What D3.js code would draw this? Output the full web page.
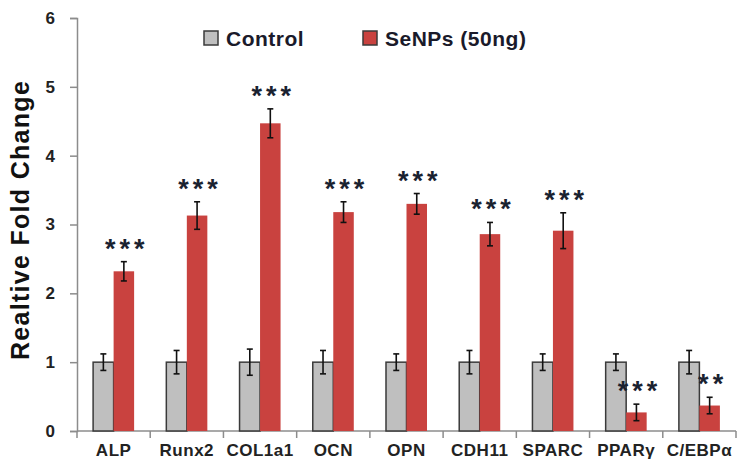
<!DOCTYPE html>
<html>
<head>
<meta charset="utf-8">
<script src="https://cdn.jsdelivr.net/npm/d3@7"></script>
<style>
  body { margin: 0; background: #fff; }
  svg { display: block; font-family: "Liberation Sans", Arial, sans-serif; }
</style>
</head>
<body>
<div id="chart"></div>
<script>
const genes = ["ALP", "Runx2", "COL1a1", "OCN", "OPN", "CDH11", "SPARC", "PPARγ", "C/EBPα"];
const controlValues = [1, 1, 1, 1, 1, 1, 1, 1, 1];
const controlErrors = [0.12, 0.17, 0.19, 0.17, 0.12, 0.17, 0.12, 0.12, 0.17];
const senpValues = [2.32, 3.13, 4.47, 3.18, 3.30, 2.86, 2.91, 0.27, 0.37];
const senpErrors = [0.14, 0.2, 0.21, 0.15, 0.15, 0.17, 0.26, 0.12, 0.12];
const stars = ["***", "***", "***", "***", "***", "***", "***", "***", "**"];
const seriesNames = ["Control", "SeNPs (50ng)"];
const yTicks = [0, 1, 2, 3, 4, 5, 6];

const width = 750;
const height = 469;
const colors = { "Control": "#bfbfbf", "SeNPs (50ng)": "#c9423f" };

const rows = genes.map((g, i) => ({
    gene: g,
    stars: stars[i],
    bars: [
        { series: "Control", value: controlValues[i], err: controlErrors[i] },
        { series: "SeNPs (50ng)", value: senpValues[i], err: senpErrors[i] }
    ]
}));

const x0 = d3.scaleBand()
    .domain(genes)
    .range([77, 736])
    .paddingInner(0.44)
    .paddingOuter(0.22);

const x1 = d3.scaleBand()
    .domain(seriesNames)
    .range([0, x0.bandwidth()]);

const y = d3.scaleLinear()
    .domain([0, 6])
    .range([431, 18]);

const svg = d3.create("svg")
    .attr("width", width)
    .attr("height", height);

// y axis
const yAxis = svg.append("g")
    .attr("transform", "translate(77,0)")
    .call(d3.axisLeft(y).tickValues(yTicks).tickFormat(d3.format("d")).tickSize(7).tickPadding(15));
yAxis.select(".domain").attr("stroke", "#8c8c8c").attr("stroke-width", 1.5);
yAxis.selectAll(".tick line").attr("stroke", "#8c8c8c").attr("stroke-width", 1.5);
yAxis.selectAll(".tick text")
    .attr("font-size", 17)
    .attr("font-weight", "bold")
    .attr("fill", "#222")
    .attr("font-family", "Liberation Sans, Arial, sans-serif");

// x axis line with ticks between categories
const step = x0.step();
const xStart = x0.range()[0];
svg.append("line")
    .attr("x1", xStart).attr("x2", x0.range()[1])
    .attr("y1", y(0)).attr("y2", y(0))
    .attr("stroke", "#8c8c8c").attr("stroke-width", 1.5);
svg.append("g")
    .selectAll("line")
    .data(d3.range(genes.length + 1))
    .join("line")
    .attr("x1", i => xStart + i * step)
    .attr("x2", i => xStart + i * step)
    .attr("y1", y(0))
    .attr("y2", y(0) + 7)
    .attr("stroke", "#8c8c8c")
    .attr("stroke-width", 1.5);

svg.append("g")
    .selectAll("text")
    .data(genes)
    .join("text")
    .attr("x", d => x0(d) + x0.bandwidth() / 2)
    .attr("y", 456)
    .attr("text-anchor", "middle")
    .attr("font-size", 17)
    .attr("font-weight", "bold")
    .attr("letter-spacing", 0.5)
    .attr("fill", "#222")
    .text(d => d);

// bars
const groups = svg.append("g")
    .selectAll("g")
    .data(rows)
    .join("g")
    .attr("transform", d => `translate(${x0(d.gene)},0)`);

groups.selectAll("rect")
    .data(d => d.bars)
    .join("rect")
    .attr("x", d => x1(d.series))
    .attr("y", d => y(d.value))
    .attr("width", x1.bandwidth())
    .attr("height", d => y(0) - y(d.value))
    .attr("fill", d => colors[d.series])
    .attr("stroke", d => d.series === "Control" ? "#3a3a3a" : "none")
    .attr("stroke-width", 1.5);

// error bars
const err = groups.selectAll("g.err")
    .data(d => d.bars)
    .join("g")
    .attr("class", "err")
    .attr("transform", d => `translate(${x1(d.series) + x1.bandwidth() / 2},0)`)
    .attr("stroke", "#111")
    .attr("stroke-width", 1.6);
err.append("line")
    .attr("y1", d => y(d.value + d.err))
    .attr("y2", d => y(d.value - d.err));
err.append("line")
    .attr("x1", -3).attr("x2", 3)
    .attr("y1", d => y(d.value + d.err))
    .attr("y2", d => y(d.value + d.err));
err.append("line")
    .attr("x1", -3).attr("x2", 3)
    .attr("y1", d => y(d.value - d.err))
    .attr("y2", d => y(d.value - d.err));

// significance stars
groups.append("text")
    .attr("x", d => x1("SeNPs (50ng)") + x1.bandwidth() / 2 + 3)
    .attr("y", d => y(d.bars[1].value + d.bars[1].err) - 4)
    .attr("text-anchor", "middle")
    .attr("font-size", 27)
    .attr("font-weight", "bold")
    .attr("letter-spacing", 4)
    .attr("fill", "#1a2230")
    .text(d => d.stars);

// legend
const legend = svg.append("g")
    .selectAll("g")
    .data(seriesNames)
    .join("g")
    .attr("transform", (d, i) => `translate(${[204, 363][i]},31)`);
legend.append("rect")
    .attr("width", 14)
    .attr("height", 14)
    .attr("fill", d => colors[d])
    .attr("stroke", "#3a3a3a")
    .attr("stroke-width", 1.5);
legend.append("text")
    .attr("x", 22)
    .attr("y", 15)
    .attr("font-size", 21)
    .attr("font-weight", "bold")
    .attr("letter-spacing", 0.5)
    .attr("fill", "#1a1a2a")
    .text(d => d);

// y axis title
svg.append("text")
    .attr("transform", "translate(29,220) rotate(-90)")
    .attr("text-anchor", "middle")
    .attr("font-size", 25)
    .attr("font-weight", "bold")
    .attr("letter-spacing", 1.3)
    .attr("fill", "#111")
    .text("Realtive Fold Change");

d3.select("#chart").node().append(svg.node());
</script>
</body>
</html>
